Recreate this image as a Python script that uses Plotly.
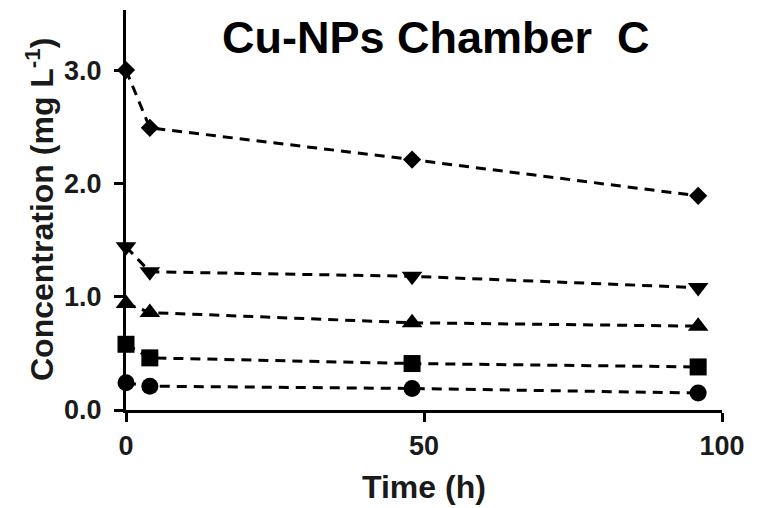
import plotly.graph_objects as go

# Sampling times (h)
time_h = [0, 4, 48, 96]

# Cu concentration (mg L-1) for each series
conc_diamond = [3.00, 2.49, 2.21, 1.89]
conc_tri_down = [1.44, 1.22, 1.18, 1.08]
conc_tri_up = [0.94, 0.86, 0.77, 0.74]
conc_square = [0.58, 0.46, 0.41, 0.38]
conc_circle = [0.24, 0.21, 0.19, 0.15]

series = [
    (conc_diamond, "diamond", 14),
    (conc_tri_down, "triangle-down", 18),
    (conc_tri_up, "triangle-up", 18),
    (conc_square, "square", 17),
    (conc_circle, "circle", 17),
]

x_ticks = [0, 50, 100]
x_tick_labels = ["0", "50", "100"]
y_ticks = [0, 1, 2, 3]
y_tick_labels = ["0.0", "1.0", "2.0", "3.0"]

FONT = "Liberation Sans, Arial, sans-serif"

fig = go.Figure()
for vals, sym, sz in series:
    fig.add_trace(go.Scatter(
        x=time_h, y=vals, mode="lines+markers",
        line=dict(color="black", width=3, dash="10px,7px"),
        marker=dict(symbol=sym, size=sz, color="black", line=dict(width=0)),
        showlegend=False, cliponaxis=False,
    ))

axis_common = dict(
    showgrid=False, zeroline=False, showline=True,
    linecolor="black", linewidth=3,
    ticks="outside", ticklen=9, tickwidth=2.5, tickcolor="black",
    tickfont=dict(family=FONT, size=27, color="#1a1a1a"),
)

fig.update_xaxes(range=[0, 100], tickvals=x_ticks,
                 ticktext=[f"<b>{t}</b>" for t in x_tick_labels],
                 ticklabelstandoff=1, **axis_common)
fig.update_yaxes(range=[0, 3.53], tickvals=y_ticks,
                 ticktext=[f"<b>{t}</b>" for t in y_tick_labels],
                 ticklabelstandoff=7, **axis_common)

fig.update_layout(
    width=757, height=508,
    margin=dict(l=126, r=35, t=10, b=98),
    plot_bgcolor="white", paper_bgcolor="white",
    font=dict(family=FONT, color="#1a1a1a"),
    annotations=[
        dict(text="<b>Cu-NPs Chamber  C</b>", xref="paper", yref="paper",
             x=0.52, y=0.93, xanchor="center", yanchor="middle",
             showarrow=False, font=dict(family=FONT, size=45, color="black")),
        dict(text="<b>Time (h)</b>", xref="paper", yref="paper",
             x=(424 - 126) / 596, y=(410 - 487) / 400,
             xanchor="center", yanchor="middle",
             showarrow=False, font=dict(family=FONT, size=32, color="#1a1a1a")),
        dict(text="<b>Concentration (mg L<sup>-1</sup>)</b>", xref="paper", yref="paper",
             x=(40 - 126) / 596, y=0.5, textangle=-90,
             xanchor="center", yanchor="middle",
             showarrow=False, font=dict(family=FONT, size=32, color="#1a1a1a")),
    ],
)

fig.write_html("out.html")
